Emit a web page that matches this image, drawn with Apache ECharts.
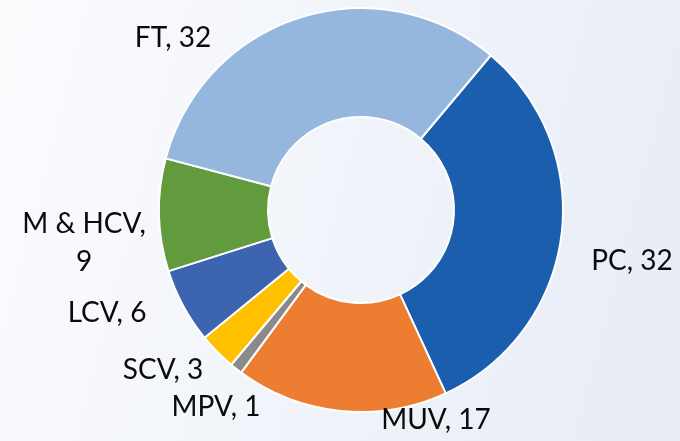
<!DOCTYPE html>
<html>
<head>
<meta charset="utf-8">
<script src="https://cdn.jsdelivr.net/npm/echarts@6/dist/echarts.min.js"></script>
<style>
html,body{margin:0;padding:0;}
#c{width:680px;height:441px;}
</style>
</head>
<body>
<div id="c"></div>
<script>
const categories = ['PC', 'MUV', 'MPV', 'SCV', 'LCV', 'M & HCV', 'FT'];
const values = [32, 17, 1, 3, 6, 9, 32];
const colors = ['#1B5EAD', '#ED7D31', '#8A8A8A', '#FFC000', '#3D64AE', '#629A3E', '#95B7DE'];

// label anchor points (layout only), relative to pie centre
const pieCenter = [361, 210];
const labelOffsets = [[271, 51], [75, 210], [-145, 197], [-198, 160], [-254, 103], [-277, 33], [-188, -172]];

const chart = echarts.init(document.getElementById('c'), null, {renderer: 'canvas'});
chart.setOption({
  animation: false,
  backgroundColor: {
    type: 'linear', x: 0, y: 0, x2: 1, y2: 0.4,
    colorStops: [{offset: 0, color: '#FBFCFE'}, {offset: 1, color: '#E8EDF6'}]
  },
  series: [{
    type: 'pie',
    center: pieCenter,
    radius: [93, 202],
    startAngle: 50,
    clockwise: true,
    avoidLabelOverlap: false,
    itemStyle: {borderColor: '#FFFFFF', borderWidth: 2},
    label: {
      show: true,
      position: 'outside',
      formatter: function (p) { return p.name === 'M & HCV' ? 'M & HCV,\n9' : p.name + ', ' + p.value; },
      fontFamily: 'Lato',
      fontSize: 28,
      color: '#0A0A0A',
      align: 'center',
      lineHeight: 38
    },
    labelLine: {show: false},
    labelLayout: function (p) {
      const o = labelOffsets[p.dataIndex];
      return {x: pieCenter[0] + o[0], y: pieCenter[1] + o[1], align: 'center', verticalAlign: 'middle'};
    },
    data: categories.map((c, i) => ({name: c, value: values[i], itemStyle: {color: colors[i]}}))
  }]
});
</script>
</body>
</html>
